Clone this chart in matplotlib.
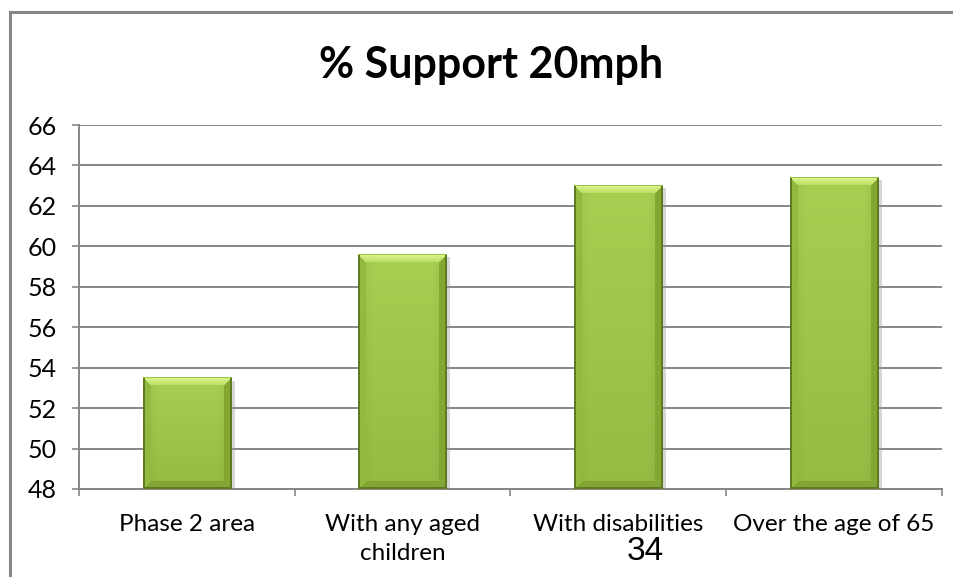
import numpy as np
import matplotlib
matplotlib.use("Agg")
import matplotlib.pyplot as plt
import matplotlib.patheffects as pe
from matplotlib.lines import Line2D

categories = ["Phase 2 area", "With any aged\nchildren", "With disabilities", "Over the age of 65"]
support = [53.5, 59.6, 63.0, 63.4]
yticks = [48, 50, 52, 54, 56, 58, 60, 62, 64, 66]

plt.rcParams['font.family'] = ['Lato', 'DejaVu Sans']

W, H = 954, 577
fig = plt.figure(figsize=(W / 100, H / 100), dpi=100)
fig.patch.set_facecolor("white")

# chart frame: only the left and top edges fall inside the page
fig.add_artist(Line2D([10.5 / W, 10.5 / W], [0, 1 - 12 / H], color="#868686", lw=2.2))
fig.add_artist(Line2D([10 / W, 1.01], [1 - 12 / H, 1 - 12 / H], color="#868686", lw=2.2))

ax = fig.add_axes([79 / W, 1 - 489 / H, (942 - 79) / W, (489 - 125) / H])
ax.set_xlim(0.5, len(categories) + 0.5)
ax.set_ylim(yticks[0], yticks[-1])

grid_col = "#868686"
for s in ["top", "right"]:
    ax.spines[s].set_visible(False)
ax.spines["left"].set_color(grid_col)
ax.spines["bottom"].set_color(grid_col)
ax.spines["left"].set_linewidth(1.4)
ax.spines["bottom"].set_linewidth(1.4)

ax.set_yticks(yticks)
ax.tick_params(axis="y", length=5, width=1.2, color=grid_col, pad=11, labelsize=18)
ax.yaxis.grid(True, color=grid_col, lw=1.4)
ax.set_axisbelow(True)

pos = np.arange(1, len(categories) + 1)
ax.set_xticks(np.arange(0.5, len(categories) + 1, 1.0))
ax.set_xticklabels([])
ax.tick_params(axis="x", which="major", length=5, width=1.2, color=grid_col, direction="out")
ax.set_xticks(pos, minor=True)
ax.set_xticklabels(categories, minor=True, fontsize=17.5, linespacing=1.45)
ax.tick_params(axis="x", which="minor", length=0, pad=18)

fig.suptitle("% Support 20mph", x=491 / W, y=1 - 45 / H, fontsize=31, fontweight="bold")

bw = 0.41
bars = ax.bar(pos, [v - yticks[0] for v in support], bottom=yticks[0], width=bw,
              color="#9cc646", edgecolor="none", zorder=2)
for b in bars:
    b.set_path_effects([pe.SimplePatchShadow(offset=(2.5, -2), shadow_rgbFace="#9a9a9a", alpha=0.4),
                        pe.Normal()])


def hexrgb(h):
    return np.array([int(h[i:i + 2], 16) for i in (1, 3, 5)]) / 255.0


def bevel_image(wpx, hpx, bev=8):
    yy, xx = np.mgrid[0:hpx, 0:wpx]
    dl = xx
    dr = wpx - 1 - xx
    dt = yy
    db = hpx - 1 - yy
    img = np.zeros((hpx, wpx, 3))
    # body: soft vertical gradient, slightly darker toward the sides
    t = (yy / max(hpx - 1, 1))[..., None]
    body = hexrgb("#a7cf52") * (1 - t) + hexrgb("#94bc42") * t
    side = np.minimum(dl, dr) / (wpx / 2)
    body = body * (0.93 + 0.07 * np.clip(side * 3, 0, 1))[..., None]
    img[:] = body
    dmin = np.minimum(np.minimum(dl, dr), np.minimum(dt, db))
    edge = dmin < bev
    top = edge & (dt == dmin)
    left = edge & (dl == dmin) & ~top
    right = edge & (dr == dmin) & ~top
    bottom = edge & (db == dmin) & ~top & ~left & ~right
    img[left] = hexrgb("#92ba3e")
    img[right] = hexrgb("#84a734")
    img[bottom] = hexrgb("#84a534")
    tt = (dt / bev)[..., None]
    topcol = hexrgb("#dcf68e") * (1 - tt) + hexrgb("#b8dc62") * tt
    img[top] = topcol[top]
    # thin dark outline
    outline = (dl < 1.5) | (dr < 1.5) | (db < 1.5)
    img[outline] = hexrgb("#5e7b22")
    img[dt < 1] = hexrgb("#9cc646")
    return img


fig.canvas.draw()
px_per_x = ax.transData.transform((1, 0))[0] - ax.transData.transform((0, 0))[0]
px_per_y = ax.transData.transform((0, 1))[1] - ax.transData.transform((0, 0))[1]
for p, v in zip(pos, support):
    wpx = int(round(bw * px_per_x))
    hpx = int(round((v - yticks[0]) * px_per_y))
    ax.imshow(bevel_image(wpx, hpx), extent=(p - bw / 2, p + bw / 2, yticks[0], v),
              aspect="auto", interpolation="nearest", zorder=3)
ax.set_xlim(0.5, len(categories) + 0.5)
ax.set_ylim(yticks[0], yticks[-1])

# page number under the chart
fig.text(645 / W, 1 - 552 / H, "34", ha="center", va="center", fontsize=24,
         family=["Liberation Sans", "DejaVu Sans"])

fig.savefig("out.png", dpi=100, facecolor="white")
